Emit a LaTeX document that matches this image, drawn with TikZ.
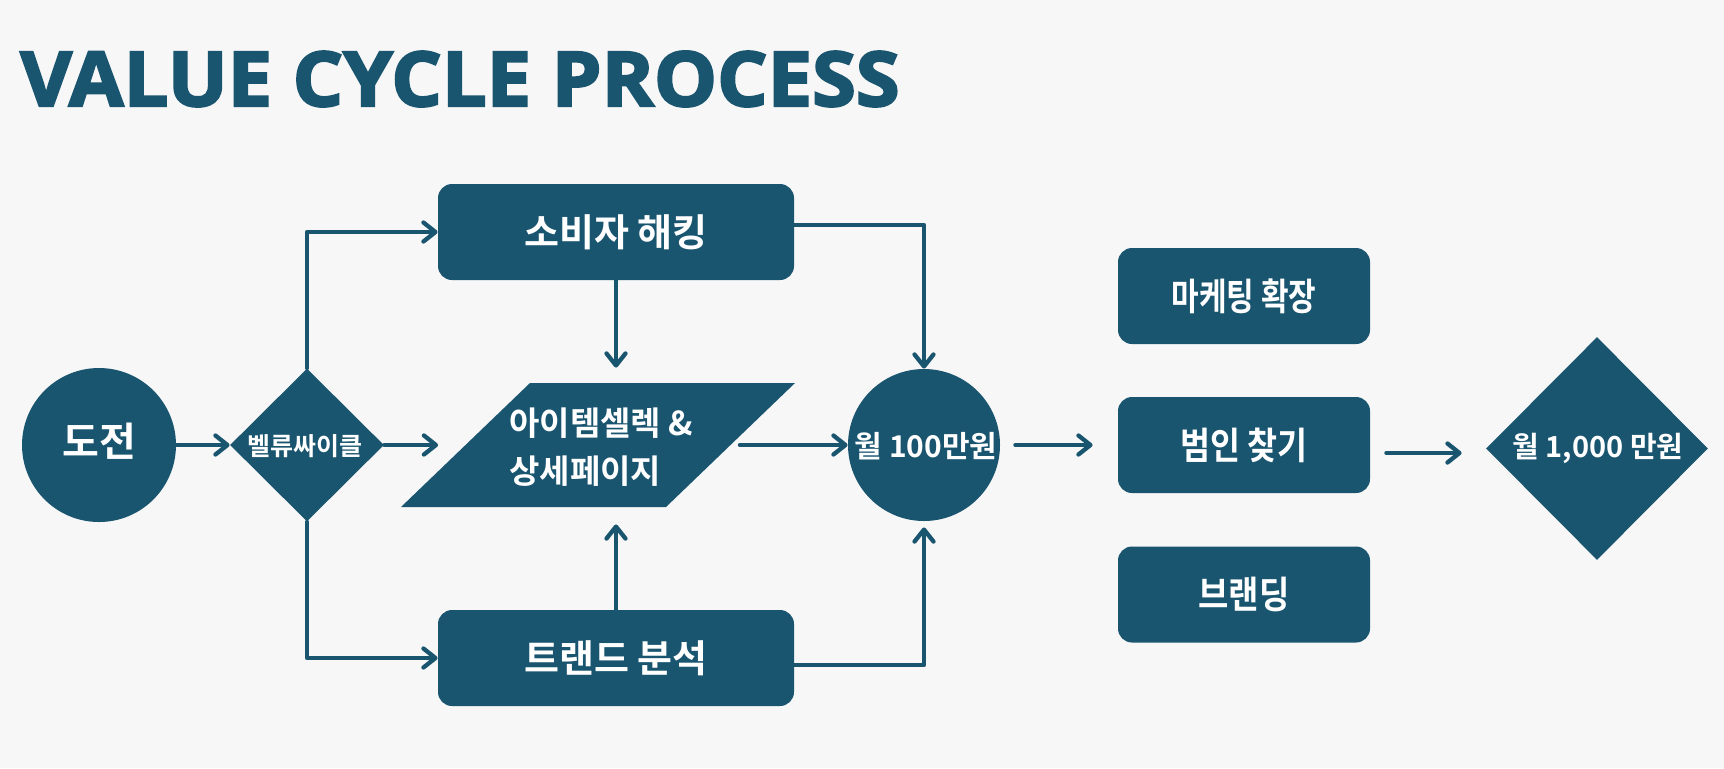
\documentclass[tikz,border=0pt]{standalone}
\usepackage{fontspec}
\usepackage{graphicx}
\usetikzlibrary{arrows.meta,shapes.geometric,calc}
\newfontfamily\kr{Noto Sans CJK KR Bold}
\newfontfamily\ttl{Open Sans Bold}[FakeBold=3, FakeStretch=1.05]
\definecolor{teal1}{RGB}{26,85,112}
\definecolor{bg}{RGB}{247,247,247}
\tikzset{
  shp/.style={fill=teal1, draw=none, inner sep=0pt},
  boxn/.style={shp, rectangle, rounded corners=7pt, text=white, font=\kr},
  txt/.style={text=white, font=\kr, inner sep=0pt},
  arr/.style={draw=teal1, line width=2.15pt, line cap=round, line join=round,
     -{Straight Barb[length=6pt,width=9.5pt,round]}},
  ln/.style={draw=teal1, line width=2.15pt, line cap=round, line join=round}
}
\begin{document}
\begin{tikzpicture}[x=0.5pt,y=-0.5pt]
\fill[bg] (0,0) rectangle (1724,768);
\useasboundingbox (0,0) rectangle (1724,768);
% title
\node[anchor=base west, inner sep=0pt, text=teal1, font=\ttl\fontsize{37.8pt}{37.8pt}\selectfont] (title) at (20,106) {VALUE CYCLE PROCESS};
% shapes
\node[shp, circle, minimum size=77pt] (doj) at (99,445) {};
\node[txt, font=\kr\fontsize{20pt}{20pt}\selectfont] (dojt) at (99,441) {도전};
\node[shp, diamond, minimum width=77pt, minimum height=76.5pt] (vc) at (307,445) {};
\node[txt, font=\kr\fontsize{12.5pt}{12.5pt}\selectfont] (vct) at (305,446) {벨류싸이클};
\node[boxn, minimum width=178pt, minimum height=48pt, font=\kr\fontsize{19pt}{19pt}\selectfont] (sb) at (616,232) {소비자 해킹};
\node[boxn, minimum width=178pt, minimum height=48pt, font=\kr\fontsize{19pt}{19pt}\selectfont] (tr) at (616,658) {트랜드 분석};
% parallelogram
\node[inner sep=0pt, minimum width=132.5pt, minimum height=62pt] (item) at (598,445) {};
\fill[teal1] (530,383) -- (795,383) -- (666,507) -- (401,507) -- cycle;
\node[txt, font=\kr\fontsize{16.5pt}{24pt}\selectfont, align=left, anchor=west] (itemt) at (509,447) {아이템셀렉 \&\\상세페이지};
\node[shp, circle, minimum size=76pt] (m100) at (924,445) {};
\node[txt, font=\kr\fontsize{15pt}{15pt}\selectfont] (m100t) at (926,446) {월 100만원};
\node[boxn, minimum width=126pt, minimum height=48pt, font=\kr\fontsize{18.75pt}{18.75pt}\selectfont] (mk) at (1244,296) {\scalebox{0.80}[1]{마케팅 확장}};
\node[boxn, minimum width=126pt, minimum height=48pt, font=\kr\fontsize{18.75pt}{18.75pt}\selectfont] (bm) at (1244,445) {\scalebox{0.87}[1]{범인 찾기}};
\node[boxn, minimum width=126pt, minimum height=48pt, font=\kr\fontsize{18.75pt}{18.75pt}\selectfont] (br) at (1244,594.5) {\scalebox{0.88}[1]{브랜딩}};
\node[shp, diamond, minimum width=111pt, minimum height=111.5pt] (big) at (1597,448.5) {};
\node[txt, font=\kr\fontsize{14.5pt}{14.5pt}\selectfont] (bigt) at (1598,448) {월 1,000 만원};
% connectors
\draw[arr] (doj.east) -- (vc.west);
\draw[arr, shorten >=13.5pt] (vc.east) -- (vc.east -| item.west);
\draw[arr] (vc.north) |- (sb.west);
\draw[arr] (vc.south) |- (tr.west);
\draw[arr, shorten >=7.5pt] (sb.south) -- (sb.south |- item.north);
\draw[arr, shorten >=8.5pt] (tr.north) -- (tr.north |- item.south);
\draw[arr, shorten <=4.5pt] (item.east) -- (m100.west);
\draw[arr] ([yshift=3.5pt]sb.east) -| (m100.north);
\draw[arr, shorten >=3pt] ([yshift=-3.5pt]tr.east) -| (m100.south);
\draw[arr, shorten <=7.5pt, shorten >=12.5pt] (m100.east) -- (bm.west);
\draw[arr, shorten <=8pt, shorten >=12pt] ([yshift=-4pt]bm.east) -- ([yshift=-4pt]bm.east -| big.west);
\end{tikzpicture}
\end{document}
